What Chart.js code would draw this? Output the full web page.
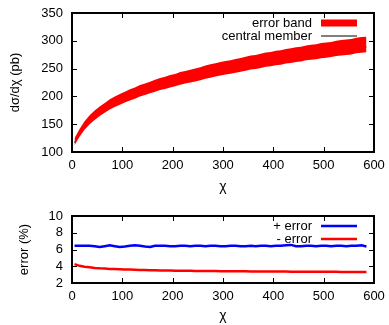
<!DOCTYPE html>
<html>
<head>
<meta charset="utf-8">
<script src="https://cdn.jsdelivr.net/npm/chart.js@4.4.1/dist/chart.umd.min.js"></script>
<style>
  body { margin: 0; background: #fff; }
  #top, #bottom { position: absolute; left: 0; width: 389px; }
  #top { top: 0; height: 200px; }
  #bottom { top: 200px; height: 125px; }
</style>
</head>
<body>
<div id="top"><canvas id="xsecChart" width="389" height="200"></canvas></div>
<div id="bottom"><canvas id="errChart" width="389" height="125"></canvas></div>
<script>
// chi bin centres
const chiValues = [5, 15, 25, 35, 45, 55, 65, 75, 85, 95, 105, 115, 125, 135, 145, 155, 165, 175, 185, 195,
    205, 215, 225, 235, 245, 255, 265, 275, 285, 295, 305, 315, 325, 335, 345, 355, 365, 375, 385, 395,
    405, 415, 425, 435, 445, 455, 465, 475, 485, 495, 505, 515, 525, 535, 545, 555, 565, 575, 585];

// central member, dsigma/dchi in pb
const centralValues = [117, 133, 146, 156, 164, 171, 177, 183, 188, 192, 196, 200, 203, 207, 210, 213, 216, 219, 221, 224,
    226, 229, 231, 233, 235, 237, 240, 242, 244, 246, 248, 249, 251, 253, 255, 257, 258, 260, 262, 263,
    265, 266, 268, 269, 271, 272, 274, 275, 276, 278, 279, 280, 282, 283, 284, 285, 287, 288, 289];

// relative errors in percent
const plusError = [6.45, 6.45, 6.45, 6.45, 6.4, 6.3, 6.4, 6.5, 6.4, 6.3, 6.35, 6.45, 6.5, 6.45, 6.35, 6.3, 6.45, 6.45, 6.45, 6.4,
    6.4, 6.45, 6.45, 6.4, 6.45, 6.45, 6.4, 6.45, 6.45, 6.4, 6.4, 6.45, 6.45, 6.4, 6.4, 6.45, 6.4, 6.45, 6.45, 6.4,
    6.45, 6.45, 6.5, 6.55, 6.4, 6.4, 6.45, 6.45, 6.4, 6.45, 6.45, 6.4, 6.45, 6.45, 6.4, 6.45, 6.45, 6.5, 6.35];
const minusError = [4.25, 4.05, 3.95, 3.87, 3.8, 3.75, 3.72, 3.68, 3.66, 3.64, 3.62, 3.6, 3.58, 3.56, 3.55, 3.53, 3.52, 3.5, 3.49, 3.48,
    3.47, 3.46, 3.46, 3.45, 3.44, 3.43, 3.43, 3.42, 3.42, 3.41, 3.4, 3.4, 3.4, 3.39, 3.39, 3.38, 3.38, 3.37, 3.37, 3.37,
    3.36, 3.36, 3.36, 3.35, 3.35, 3.35, 3.34, 3.34, 3.34, 3.33, 3.33, 3.33, 3.33, 3.32, 3.32, 3.32, 3.32, 3.31, 3.31];

const xTicks = [0, 100, 200, 300, 400, 500, 600];
const topYTicks = [100, 150, 200, 250, 300, 350];
const bottomYTicks = [2, 4, 6, 8, 10];

const FONT = 'Liberation Sans, Arial, Helvetica, sans-serif';
Chart.defaults.font.family = FONT;
Chart.defaults.font.size = 13;
Chart.defaults.color = '#000';

const pts = (ys) => chiValues.map((x, i) => ({ x: x, y: ys[i] }));
const upperBand = centralValues.map((v, i) => v * (1 + plusError[i] / 100));
const lowerBand = centralValues.map((v, i) => v * (1 - minusError[i] / 100));

// gnuplot style frame with ticks pointing inwards on all four sides
const framePlugin = {
    id: 'frame',
    afterDatasetsDraw(chart) {
        const ctx = chart.ctx;
        const a = chart.chartArea;
        const xs = chart.scales.x, ys = chart.scales.y;
        ctx.save();
        ctx.strokeStyle = '#000';
        ctx.lineWidth = 1;
        ctx.beginPath();
        xs.ticks.forEach(t => {
            const px = Math.round(xs.getPixelForValue(t.value)) + 0.5;
            ctx.moveTo(px, a.bottom); ctx.lineTo(px, a.bottom - 5);
            ctx.moveTo(px, a.top); ctx.lineTo(px, a.top + 5);
        });
        ys.ticks.forEach(t => {
            const py = Math.round(ys.getPixelForValue(t.value)) + 0.5;
            ctx.moveTo(a.left, py); ctx.lineTo(a.left + 5, py);
            ctx.moveTo(a.right, py); ctx.lineTo(a.right - 5, py);
        });
        ctx.stroke();
        ctx.lineWidth = 2;
        ctx.strokeRect(a.left, a.top, a.right - a.left, a.bottom - a.top);
        ctx.restore();
    }
};

// key drawn inside the plot, top right
const keyPlugin = {
    id: 'key',
    afterDraw(chart, args, opts) {
        const ctx = chart.ctx;
        const a = chart.chartArea;
        ctx.save();
        ctx.font = '13px ' + FONT;
        ctx.textAlign = 'right';
        ctx.textBaseline = 'middle';
        opts.items.forEach((it, i) => {
            const y = a.top + 10 + i * 13;
            ctx.fillStyle = '#000';
            ctx.fillText(it.text, a.right - 62, y);
            if (it.box) {
                ctx.fillStyle = it.color;
                ctx.fillRect(a.right - 53, y - 3.5, 36, 7);
            } else {
                ctx.strokeStyle = it.color;
                ctx.lineWidth = it.width;
                ctx.beginPath();
                ctx.moveTo(a.right - 53, y);
                ctx.lineTo(a.right - 17, y);
                ctx.stroke();
            }
        });
        ctx.restore();
    }
};

function xAxis(height, titlePad) {
    return {
        type: 'linear', min: 0, max: 600,
        afterBuildTicks: s => { s.ticks = xTicks.map(v => ({ value: v })); },
        afterFit: s => { s.height = height; s.paddingLeft = 0; s.paddingRight = 0; },
        grid: { display: false, drawTicks: false },
        border: { display: false },
        ticks: { padding: 6, maxRotation: 0, autoSkip: false, color: '#000' },
        title: { display: true, text: 'χ', padding: { top: 0, bottom: titlePad }, font: { size: 14 } }
    };
}

function yAxis(min, max, ticks, title, titlePad) {
    return {
        min: min, max: max,
        afterBuildTicks: s => { s.ticks = ticks.map(v => ({ value: v })); },
        afterFit: s => { s.width = 72; s.paddingTop = 0; s.paddingBottom = 0; },
        grid: { display: false, drawTicks: false },
        border: { display: false },
        ticks: { padding: 9, autoSkip: false, color: '#000' },
        title: { display: true, text: title, padding: { top: titlePad, bottom: 0 } }
    };
}

new Chart(document.getElementById('xsecChart'), {
    type: 'line',
    data: {
        datasets: [
            { data: pts(upperBand), borderWidth: 0, pointRadius: 0, fill: false, borderColor: 'rgba(0,0,0,0)' },
            { data: pts(lowerBand), borderWidth: 0, pointRadius: 0, fill: '-1', borderColor: 'rgba(0,0,0,0)', backgroundColor: '#ff0000' },
            { data: pts(centralValues), borderColor: '#000', borderWidth: 1, pointRadius: 0, fill: false }
        ]
    },
    options: {
        responsive: false,
        animation: false,
        layout: { padding: { top: 13, right: 15, bottom: 0, left: 0 } },
        plugins: {
            legend: { display: false },
            tooltip: { enabled: false },
            key: { items: [
                { text: 'error band', color: '#ff0000', box: true },
                { text: 'central member', color: '#000', width: 1 }
            ] }
        },
        scales: {
            x: xAxis(48, 4),
            y: yAxis(100, 350, topYTicks, 'dσ/dχ (pb)', 8)
        }
    },
    plugins: [framePlugin, keyPlugin]
});

new Chart(document.getElementById('errChart'), {
    type: 'line',
    data: {
        datasets: [
            { data: pts(plusError), borderColor: '#0000ff', borderWidth: 2.5, pointRadius: 0, fill: false },
            { data: pts(minusError), borderColor: '#ff0000', borderWidth: 2.5, pointRadius: 0, fill: false }
        ]
    },
    options: {
        responsive: false,
        animation: false,
        layout: { padding: { top: 16, right: 15, bottom: 0, left: 0 } },
        plugins: {
            legend: { display: false },
            tooltip: { enabled: false },
            key: { items: [
                { text: '+ error', color: '#0000ff', width: 2.5 },
                { text: '- error', color: '#ff0000', width: 2.5 }
            ] }
        },
        scales: {
            x: xAxis(42, 0),
            y: yAxis(2, 10, bottomYTicks, 'error (%)', 17)
        }
    },
    plugins: [framePlugin, keyPlugin]
});
</script>
</body>
</html>
